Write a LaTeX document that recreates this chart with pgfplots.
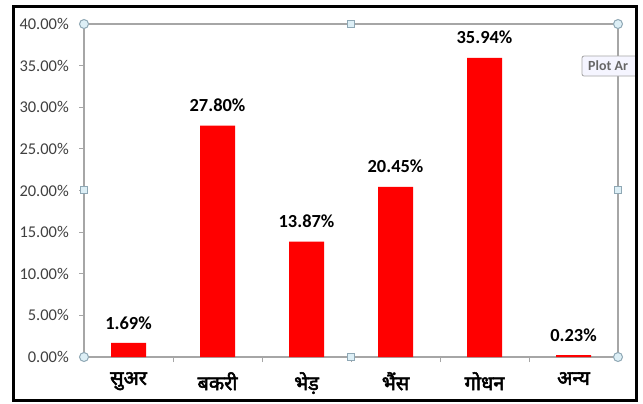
\documentclass[border=0pt]{standalone}
\usepackage{pgfplots}
\pgfplotsset{compat=1.18}
\usepackage{fontspec}
\setmainfont{Carlito}
\newfontfamily\hindi[Script=Devanagari,FakeBold=2.5]{Noto Sans}
\definecolor{tickgray}{HTML}{404040}
\definecolor{framegray}{HTML}{A6A6A6}
\definecolor{handlefill}{HTML}{DDEFF6}
\definecolor{handledraw}{HTML}{8FA8B5}
\begin{document}
\begin{tikzpicture}
\begin{scope}[x=1bp,y=-1bp]
  \path[fill=white] (0,0) rectangle (643,403);
\end{scope}
\begin{axis}[
  at={(84bp,-357bp)}, anchor=south west,
  scale only axis, width=534bp, height=333bp,
  xmin=-0.5, xmax=5.5, ymin=0, ymax=40,
  clip=false,
  axis line style={draw=framegray, line width=1.4bp},
  /pgf/number format/assume math mode=true,
  ytick={0,5,...,40},
  yticklabel={\pgfmathprintnumber[fixed,fixed zerofill,precision=2]{\tick}\%},
  yticklabel style={font=\fontsize{16.5}{16.5}\selectfont, text=tickgray, inner sep=0pt, xshift=-10bp},
  ytick pos=left,
  tick align=outside,
  major tick length=5bp,
  tick style={draw=framegray, line width=1bp},
  xtick={0.5,1.5,2.5,3.5,4.5},
  xticklabels={},
  xtick pos=bottom,
  extra x ticks={0,1,2,3,4,5},
  extra x tick labels={सुअर,बकरी,भेड़,भैंस,गोधन,अन्य},
  extra x tick style={major tick length=0pt, tick style={draw=none},
     xticklabel style={font=\hindi\fontsize{20}{20}\selectfont, text=black, inner sep=0pt, yshift=-15bp}},
  bar width=35bp,
  nodes near coords={\pgfmathprintnumber[fixed,fixed zerofill,precision=2]{\pgfplotspointmeta}\%},
  nodes near coords style={font=\bfseries\fontsize{18.5}{18.5}\selectfont, text=black, anchor=south, inner sep=0pt, yshift=13.5bp},
]
\addplot[ybar, fill=red, draw=none] coordinates {
  (0,1.69) (1,27.80) (2,13.87) (3,20.45) (4,35.94) (5,0.23)
};
\end{axis}
\begin{scope}[x=1bp,y=-1bp]
  % tooltip
  \path[fill=white!96!blue, draw=framegray, line width=0.8bp, rounded corners=2bp] (582,56) rectangle (642,76);
  \node[anchor=west, inner sep=0pt, text=black!60, font=\bfseries\fontsize{14}{14}\selectfont] at (588,66) {Plot Ar};
  \path[fill=white] (637,40) rectangle (643,90);
  % handles
  \foreach \p in {(84,24),(618,24),(84,357),(618,357)}
    \draw[fill=handlefill, draw=handledraw, line width=1bp] \p circle (4.5);
  \foreach \p in {(351,24),(351,357),(84,190),(618,190)}
    \draw[fill=handlefill, draw=handledraw, line width=1bp] \p ++(-3.5,-3.5) rectangle ++(7,7);
  % outer frame
  \draw[line width=3bp, black] (13,6) rectangle (636,400);
\end{scope}
\end{tikzpicture}
\end{document}
